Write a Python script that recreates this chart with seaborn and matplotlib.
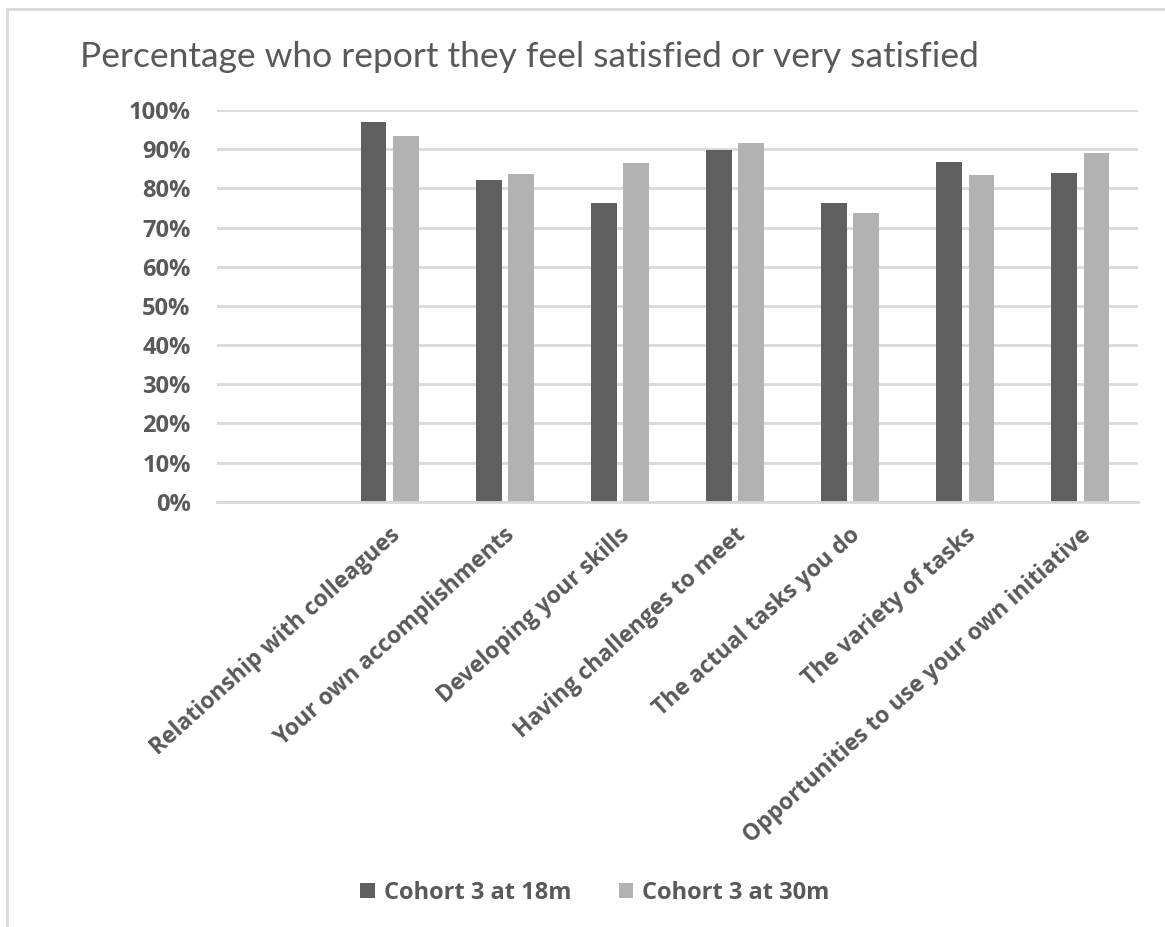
import matplotlib
matplotlib.use("Agg")
import matplotlib.pyplot as plt
import matplotlib.transforms as mtransforms
from matplotlib.patches import Rectangle
from matplotlib.ticker import PercentFormatter
import seaborn as sns
import pandas as pd

categories = [
    "Relationship with colleagues",
    "Your own accomplishments",
    "Developing your skills",
    "Having challenges to meet",
    "The actual tasks you do",
    "The variety of tasks",
    "Opportunities to use your own initiative",
]
series_names = ["Cohort 3 at 18m", "Cohort 3 at 30m"]
cohort_18m = [0.970, 0.821, 0.763, 0.897, 0.763, 0.868, 0.838]
cohort_30m = [0.934, 0.836, 0.864, 0.915, 0.738, 0.835, 0.889]
yticks = [0, 0.1, 0.2, 0.3, 0.4, 0.5, 0.6, 0.7, 0.8, 0.9, 1.0]

df = pd.DataFrame({
    "category": categories * 2,
    "series": [series_names[0]] * len(categories) + [series_names[1]] * len(categories),
    "value": cohort_18m + cohort_30m,
})

sns.set_theme(style="white")
plt.rcParams["font.family"] = ["Open Sans", "DejaVu Sans"]

TXT = "#595959"
GRID = "#d9d9d9"

fig = plt.figure(figsize=(11.65, 9.27), dpi=100)
ax = fig.add_axes([217 / 1165, 1 - 501.7 / 927, (1138 - 217) / 1165, (501.7 - 110) / 927])

sns.barplot(data=df, x="category", y="value", hue="series", order=categories,
            hue_order=series_names, palette=["#5f5f5f", "#b2b2b2"],
            width=0.56, gap=0.2, ax=ax, legend=True, edgecolor="none", saturation=1)

ax.set_xlim(-1.5, 6.5)
ax.set_ylim(0, 1.0)
ax.set_yticks(yticks)
ax.yaxis.set_major_formatter(PercentFormatter(1.0, decimals=0))
ax.set_xlabel("")
ax.set_ylabel("")
ax.grid(axis="y", color=GRID, linewidth=2)
ax.set_axisbelow(True)
for s in ["top", "right", "left"]:
    ax.spines[s].set_visible(False)
ax.spines["bottom"].set_color(GRID)
ax.spines["bottom"].set_linewidth(2)
ax.tick_params(axis="both", length=0)
ax.tick_params(axis="y", pad=19, labelsize=17, labelcolor=TXT)
for lbl in ax.get_yticklabels():
    lbl.set_fontweight("bold")

ax.tick_params(axis="x", pad=22, labelsize=16.5, labelcolor=TXT)
offset = mtransforms.ScaledTranslation(7 / 100, 0, fig.dpi_scale_trans)
for lbl in ax.get_xticklabels():
    lbl.set_rotation(42)
    lbl.set_ha("right")
    lbl.set_va("center")
    lbl.set_rotation_mode("anchor")
    lbl.set_fontweight("bold")
    lbl.set_transform(lbl.get_transform() + offset)

# legend
handles, labels = ax.get_legend_handles_labels()
ax.get_legend().remove()
fig.legend(handles, labels, loc="center", bbox_to_anchor=(595 / 1165, 1 - 893 / 927),
           ncol=2, frameon=False, handlelength=0.6, handleheight=0.6,
           handletextpad=0.4, columnspacing=2.0,
           prop={"size": 17, "weight": "bold"}, labelcolor=TXT)

fig.text(80 / 1165, 1 - 57 / 927, "Percentage who report they feel satisfied or very satisfied",
         fontsize=25.5, color=TXT, ha="left", va="center", family=["Lato", "DejaVu Sans"])

# chart area border
fig.patches.append(Rectangle((7 / 1165, -0.1), 1.2, 1 - 9 / 927 + 0.1,
                             transform=fig.transFigure, fill=False,
                             edgecolor=GRID, linewidth=2))

fig.savefig("out.png", dpi=100)
